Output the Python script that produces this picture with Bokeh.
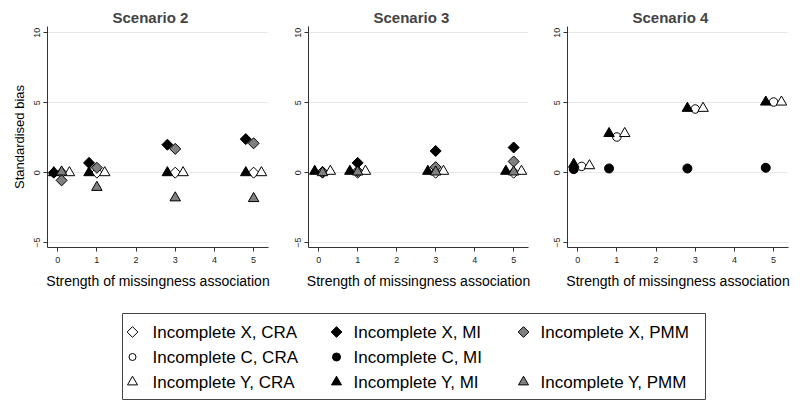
import math
from bokeh.plotting import figure
from bokeh.models import Range1d, FixedTicker
from bokeh.layouts import column, row
from bokeh.embed import file_html
from bokeh.resources import INLINE
from bokeh.core.properties import value

# ---------------- data ----------------
x_ticks = [0, 1, 2, 3, 4, 5]
y_ticks = [-5, 0, 5, 10]
# plotted positions around strength 0, 1, 3, 5
x_left = [-0.1, 0.8, 2.8, 4.8]
x_mid = [0.1, 1.0, 3.0, 5.0]
x_right = [0.3, 1.2, 3.2, 5.2]

# Scenario 2
s2_x_cra = [0.0, 0.0, 0.0, 0.0]
s2_x_mi = [0.0, 0.7, 2.0, 2.4]
s2_x_pmm = [-0.55, 0.35, 1.7, 2.1]
s2_y_cra = [0.0, 0.0, 0.0, 0.0]
s2_y_mi = [0.0, 0.0, 0.0, 0.0]
s2_y_pmm = [0.05, -1.05, -1.8, -1.85]

# Scenario 3
s3_x_cra = [0.0, 0.0, 0.0, 0.0]
s3_x_mi = [0.05, 0.7, 1.55, 1.8]
s3_x_pmm = [0.05, 0.1, 0.4, 0.8]
s3_y_cra = [0.1, 0.1, 0.1, 0.1]
s3_y_mi = [0.1, 0.1, 0.1, 0.1]
s3_y_pmm = [0.0, 0.05, 0.05, 0.05]

# Scenario 4
s4_c_cra = [0.45, 2.55, 4.55, 5.05]
s4_c_mi = [0.25, 0.3, 0.3, 0.35]
s4_y_cra = [0.5, 2.8, 4.6, 5.05]
s4_y_mi = [0.6, 2.8, 4.6, 5.05]

legend_keys = ["xcra", "xmi", "xpmm", "ccra", "cmi", "ycra", "ymi", "ypmm"]
legend_labels = ["Incomplete X, CRA", "Incomplete X, MI", "Incomplete X, PMM",
                 "Incomplete C, CRA", "Incomplete C, MI",
                 "Incomplete Y, CRA", "Incomplete Y, MI", "Incomplete Y, PMM"]
legend_col = [0, 1, 2, 0, 1, 0, 1, 2]
legend_row = [0, 0, 0, 1, 1, 2, 2, 2]

# ---------------- styles ----------------
FONT = "Liberation Sans"
GREY = "#808080"
DIAMOND = dict(marker="square", angle=math.pi / 4)

styles = {
    "xcra": dict(DIAMOND, size=7.8, fill_color="white"),
    "xmi": dict(DIAMOND, size=7.8, fill_color="black"),
    "xpmm": dict(DIAMOND, size=7.8, fill_color=GREY),
    "ccra": dict(marker="circle", size=8.5, fill_color="white"),
    "cmi": dict(marker="circle", size=9, fill_color="black"),
    "ycra": dict(marker="triangle", size=10.5, fill_color="white"),
    "ymi": dict(marker="triangle", size=10.5, fill_color="black"),
    "ypmm": dict(marker="triangle", size=10.5, fill_color=GREY),
}
legend_sizes = {"xcra": 7.6, "xmi": 7.6, "xpmm": 7.6, "ccra": 7.0, "cmi": 8.0,
                "ycra": 10.0, "ymi": 10.0, "ypmm": 10.0}
for s in styles.values():
    s.update(line_color="black", line_width=1)


def make_panel(title, series, left, fw, right, ylabel):
    p = figure(frame_width=fw, frame_height=221,
               x_range=Range1d(-0.26, 5.38), y_range=Range1d(-5.35, 10.45),
               output_backend="svg", toolbar_location=None,
               min_border_left=left, min_border_right=right,
               min_border_top=26, min_border_bottom=53)
    p.outline_line_color = None
    p.background_fill_color = "white"
    p.border_fill_color = "white"
    p.title.text = title
    p.title.text_font = FONT
    p.title.text_font_size = "15px"
    p.title.text_font_style = "bold"
    p.title.align = "left"
    p.title.offset = 65
    p.title.standoff = 1

    p.xaxis.ticker = FixedTicker(ticks=x_ticks)
    p.yaxis.ticker = FixedTicker(ticks=y_ticks)
    p.xgrid.visible = False
    p.ygrid.grid_line_color = "#e8e8e8"
    p.ygrid.grid_line_width = 1
    for ax in (p.xaxis[0], p.yaxis[0]):
        ax.axis_line_color = "#333333"
        ax.major_tick_line_color = "#333333"
        ax.major_tick_out = 4
        ax.major_tick_in = 0
        ax.minor_tick_line_color = None
        ax.major_label_text_font = FONT
        ax.major_label_text_font_size = "9px"
        ax.major_label_text_color = "#222222"
        ax.axis_label_text_font = FONT
        ax.axis_label_text_font_style = "normal"
        ax.axis_label_text_color = "black"
    p.xaxis.major_label_standoff = 5
    p.xaxis.axis_label = "Strength of missingness association"
    p.xaxis.axis_label_text_font_size = "14px"
    p.xaxis.axis_label_standoff = 7
    p.yaxis.major_label_orientation = "parallel"
    p.yaxis.major_label_standoff = 3
    if ylabel:
        p.yaxis.axis_label = ylabel
        p.yaxis.axis_label_text_font_size = "13px"
        p.yaxis.axis_label_standoff = 5

    for key, xs, ys in series:
        p.scatter(x=xs, y=ys, **styles[key])
    return p


p2 = make_panel("Scenario 2", [
    ("xcra", x_mid, s2_x_cra), ("xmi", x_left, s2_x_mi), ("xpmm", x_mid, s2_x_pmm),
    ("ycra", x_right, s2_y_cra), ("ymi", x_left, s2_y_mi), ("ypmm", x_mid, s2_y_pmm),
], 47, 221, 2, "Standardised bias")
p3 = make_panel("Scenario 3", [
    ("xcra", x_mid, s3_x_cra), ("xmi", x_mid, s3_x_mi), ("xpmm", x_mid, s3_x_pmm),
    ("ycra", x_right, s3_y_cra), ("ymi", x_left, s3_y_mi), ("ypmm", x_mid, s3_y_pmm),
], 38, 220, 2, None)
p4 = make_panel("Scenario 4", [
    ("ccra", x_mid, s4_c_cra), ("cmi", x_left, s4_c_mi),
    ("ycra", x_right, s4_y_cra), ("ymi", x_left, s4_y_mi),
], 37, 221, 12, None)

# ---------------- legend box (pixel-space layout) ----------------
BOX_W, BOX_H = 583, 86
leg = figure(frame_width=BOX_W, frame_height=BOX_H,
             x_range=Range1d(0, BOX_W), y_range=Range1d(BOX_H, 0),
             output_backend="svg", toolbar_location=None,
             x_axis_location=None, y_axis_location=None,
             min_border_left=122, min_border_right=95,
             min_border_top=13, min_border_bottom=11)
leg.grid.visible = False
leg.outline_line_color = "#444444"
leg.outline_line_width = 1

col_glyph = [10, 214, 401]
col_label = [30, 231, 418]
row_cy = [18.5, 43.5, 68.5]
for key, lab, c, r in zip(legend_keys, legend_labels, legend_col, legend_row):
    st = {k: v for k, v in styles[key].items() if k != "size"}
    leg.scatter(x=[col_glyph[c]], y=[row_cy[r]], size=legend_sizes[key], **st)
    leg.text(x=[col_label[c]], y=[row_cy[r]], text=[lab],
             text_font=value(FONT), text_font_size="17px",
             text_baseline="middle", text_align="left", text_color="black")

layout = column(row(p2, p3, p4), leg)
open("out.html", "w").write(file_html(layout, INLINE))
